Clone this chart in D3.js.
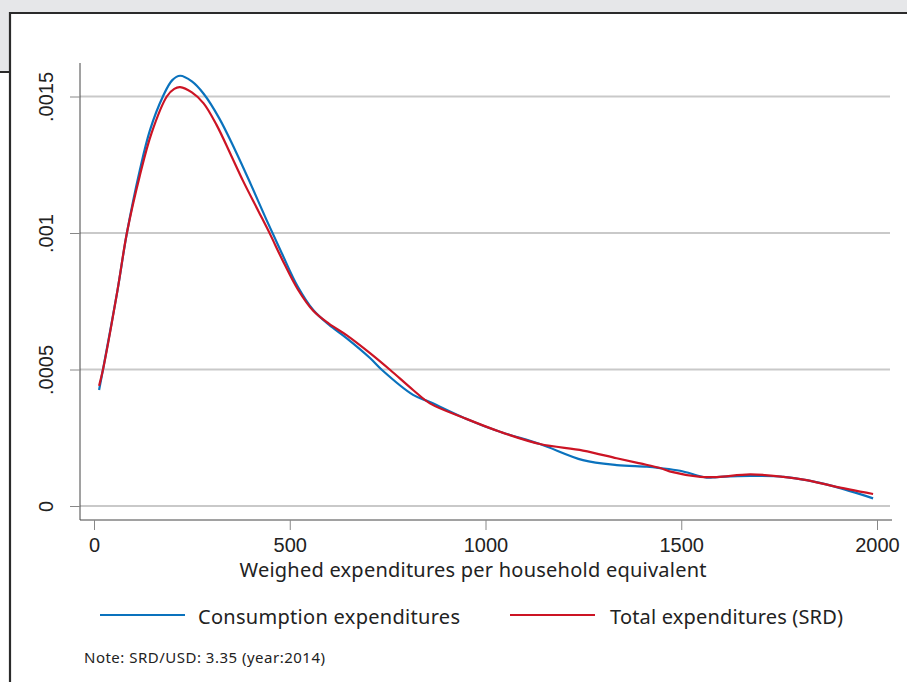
<!DOCTYPE html>
<html><head><meta charset="utf-8">
<script src="https://cdn.jsdelivr.net/npm/d3@7"></script>
<style>body{margin:0;background:#e6e7e9;} svg{display:block;font-family:"Noto Sans","Open Sans",sans-serif;}</style>
</head><body>
<script>
// Data (density values in units of 1e-4)
const consX = [13,23,60,84,117,143,176,200,220,250,280,320,360,400,440,480,520,560,600,645,705,735,815,858,950,1037,1139,1249,1335,1412,1446,1497,1565,1591,1676,1761,1820,1888,1990];
const consY = [4.25,5.0,7.9,10.0,12.3,13.77,15.0,15.6,15.76,15.55,15.1,14.2,13.05,11.8,10.5,9.25,8.05,7.18,6.64,6.15,5.42,4.99,4.07,3.81,3.2,2.72,2.27,1.68,1.50,1.44,1.39,1.29,1.04,1.06,1.10,1.07,0.95,0.73,0.28];
const totX = [13,23,60,84,117,147,186,205,220,250,280,313,350,381,420,450,480,520,560,600,645,705,756,815,858,950,1037,1139,1249,1335,1395,1446,1470,1549,1591,1676,1761,1820,1888,1990];
const totY = [4.40,5.0,7.9,10.0,12.1,13.66,15.0,15.28,15.34,15.15,14.75,13.96,12.85,11.9,10.8,9.95,9.05,7.95,7.15,6.68,6.26,5.60,4.99,4.25,3.76,3.2,2.72,2.27,2.03,1.75,1.56,1.39,1.27,1.07,1.06,1.16,1.07,0.95,0.73,0.44];
const xTicks = [0,500,1000,1500,2000];
const yTicks = [0,0.0005,0.001,0.0015];
const yTickLabels = ["0",".0005",".001",".0015"];
const seriesNames = ["Consumption expenditures","Total expenditures (SRD)"];
const seriesColors = ["#0a72bd","#cc1424"];

const W=907,H=682;
const svg=d3.select("body").append("svg").attr("width",W).attr("height",H);
// background frame
svg.append("rect").attr("width",W).attr("height",H).attr("fill","#e6e7e9");
svg.append("rect").attr("x",10).attr("y",13).attr("width",W-10).attr("height",H-13).attr("fill","#fff");
svg.append("rect").attr("x",0).attr("y",72).attr("width",10).attr("height",H-72).attr("fill","#fff");
svg.append("line").attr("x1",0).attr("x2",10).attr("y1",72).attr("y2",72).attr("stroke","#2b2b2b").attr("stroke-width",2);
svg.append("line").attr("x1",9).attr("x2",W).attr("y1",13).attr("y2",13).attr("stroke","#2b2b2b").attr("stroke-width",2.2);
svg.append("line").attr("x1",10).attr("x2",10).attr("y1",12).attr("y2",H).attr("stroke","#2b2b2b").attr("stroke-width",2.2);

const x=d3.scaleLinear().domain([0,2000]).range([94,877]);
const y=d3.scaleLinear().domain([0,0.0015]).range([506,96.5]);

// gridlines
svg.append("g").selectAll("line").data(yTicks).join("line")
  .attr("x1",80).attr("x2",890).attr("y1",d=>y(d)).attr("y2",d=>y(d))
  .attr("stroke","#c9c9c9").attr("stroke-width",2);

// y axis
const yAxis=d3.axisLeft(y).tickValues(yTicks).tickFormat((d,i)=>yTickLabels[i]).tickSize(10).tickPadding(0);
const gy=svg.append("g").attr("transform","translate(80,0)").call(yAxis);
gy.select(".domain").attr("d","M0,63V520").attr("stroke","#444").attr("stroke-width",1);
gy.selectAll(".tick line").attr("stroke","#888");
gy.selectAll(".tick text").attr("fill","#222").style("font-size","20px")
  .attr("text-anchor","middle").attr("x",0).attr("dy",0)
  .attr("transform","translate(-27,0) rotate(-90)");

// x axis
const xAxis=d3.axisBottom(x).tickValues(xTicks).tickFormat(d3.format("d")).tickSize(10).tickPadding(8);
const gx=svg.append("g").attr("transform","translate(0,520)").call(xAxis);
gx.select(".domain").attr("d","M80,0H892").attr("stroke","#444").attr("stroke-width",1);
gx.selectAll(".tick line").attr("stroke","#888");
gx.selectAll(".tick text").attr("fill","#222").style("font-size","20px").attr("dy","0.71em");

svg.append("text").attr("x",473).attr("y",577).attr("text-anchor","middle")
  .attr("fill","#222").style("font-size","20px").attr("textLength",467)
  .text("Weighed expenditures per household equivalent");

// lines
const line=d3.line().x(d=>x(d[0])).y(d=>y(d[1]*1e-4)).curve(d3.curveCatmullRom.alpha(0.5));
const series=[d3.zip(consX,consY), d3.zip(totX,totY)];
svg.append("g").selectAll("path").data(series).join("path")
  .attr("d",line).attr("fill","none").attr("stroke",(d,i)=>seriesColors[i]).attr("stroke-width",2.2);

// legend
const legX=[[100,185,198,262],[510,595,610,233]];
seriesNames.forEach((n,i)=>{
  svg.append("line").attr("x1",legX[i][0]).attr("x2",legX[i][1]).attr("y1",615).attr("y2",615)
    .attr("stroke",seriesColors[i]).attr("stroke-width",2);
  svg.append("text").attr("x",legX[i][2]).attr("y",624).attr("fill","#222").style("font-size","20px")
    .attr("textLength",legX[i][3]).text(n);
});
svg.append("text").attr("x",84).attr("y",663).attr("fill","#222").style("font-size","15px")
  .attr("textLength",241).text("Note: SRD/USD: 3.35 (year:2014)");
</script>
</body></html>
